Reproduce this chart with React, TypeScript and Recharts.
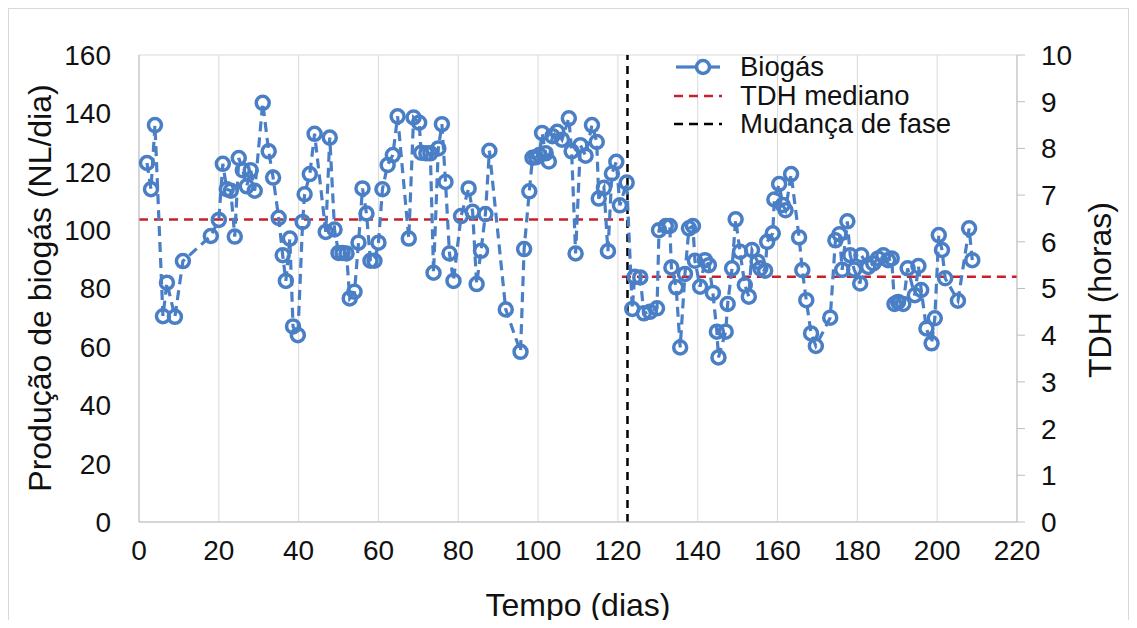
import { ComposedChart, Line, XAxis, YAxis, CartesianGrid, ReferenceLine, Legend } from 'recharts';

const BLUE = '#4A7FC6';
const RED = '#C8202A';
const FONT = '"Liberation Sans", Arial, sans-serif';

// Dias e produção de biogás (NL/dia)
const biogasDays = [
  2, 3, 4, 6, 7, 9, 11, 18, 20, 21, 22, 23, 24, 25, 26, 27, 28, 29, 31, 32.5,
  33.6, 35, 36, 36.8, 37.8, 38.6, 39.8, 41, 41.5, 42.8, 44, 46.8, 47.8, 49, 50, 51, 52, 52.8, 54, 55,
  56, 57, 58, 59, 60, 61, 62.3, 63.6, 64.8, 67.6, 68.8, 70.2, 70.7, 72, 73, 73.8, 75, 75.9, 76.8, 77.8,
  78.8, 80.7, 82.6, 83.6, 84.6, 85.7, 86.8, 87.8, 91.9, 95.6, 96.5, 97.8, 98.6, 99.5, 100.3, 101, 101.9, 102.7, 103.6, 104.8,
  106, 107.7, 108.4, 109.4, 110.6, 111.9, 113.5, 114.7, 115.2, 116.5, 117.5, 118.5, 119.6, 120.5, 122.2, 123.6, 124.2, 125.6, 126.5, 128,
  129.8, 130.3, 132, 133, 133.4, 134.6, 135.6, 136.8, 137.8, 138.8, 139.3, 140.6, 141.8, 142.8, 143.8, 144.8, 145.2, 147, 147.5, 148.6,
  149.5, 150.6, 151.8, 152.8, 153.6, 155, 155.7, 156.9, 157.4, 158.8, 159.2, 160.4, 161.3, 162, 163.4, 165.4, 166.2, 167.2, 168.4, 169.6,
  173.2, 174.5, 175.5, 176.2, 177.5, 178.2, 179.2, 180.7, 181, 182.7, 184, 185.2, 186.5, 187.7, 188.6, 189.3, 190.2, 191.5, 192.6, 194.4,
  195.3, 196, 197.3, 198.6, 199.4, 200.4, 201.2, 202, 205.2, 208, 208.8,
];
const biogasValues = [
  123, 114, 136, 70.5, 82, 70.3, 89.4, 98, 103.5, 122.7, 114, 113.5, 97.8, 124.7, 120.5, 115, 120.5, 113.5, 143.6, 127,
  118, 104.2, 91.4, 82.6, 97.1, 67, 64, 102.8, 112.3, 119.2, 133, 99.4, 131.7, 100.2, 92.2, 92.2, 92, 76.6, 78.9, 95.7,
  114.3, 105.7, 89.5, 89.5, 95.7, 114, 122.3, 125.7, 139, 97.1, 138.6, 136.8, 126.5, 126.3, 126.3, 85.4, 128, 136.3, 116.5, 92,
  82.6, 104.8, 114.3, 106.3, 81.5, 92.9, 105.5, 127.2, 72.8, 58.3, 93.5, 113.3, 124.8, 125, 125.7, 133.3, 126.3, 123.5, 132.2, 133.7,
  131, 138.3, 127, 92, 129.1, 125.5, 136, 130.2, 110.8, 114.5, 92.8, 119.4, 123.4, 108.5, 116.3, 73, 84, 83.8, 71.5, 72,
  73.2, 100, 101.4, 101.4, 87.2, 80.4, 59.8, 85, 100.6, 101.4, 89.5, 80.6, 89.7, 88, 78.5, 65.2, 56.4, 65.2, 74.7, 86.9,
  103.7, 92.6, 81.2, 77.2, 93.2, 89.2, 86.9, 86.1, 96, 98.9, 110.5, 115.8, 108.6, 106.8, 119.2, 97.5, 86.3, 76, 64.6, 60.3,
  70, 96.5, 98.6, 86.4, 103, 91.4, 86.5, 81.7, 91.4, 87.4, 88.6, 90.3, 91.4, 89.7, 90.3, 74.7, 75.4, 74.7, 86.9, 77.7,
  87.7, 79.5, 66.3, 61.2, 69.8, 98.3, 93.2, 83.5, 75.8, 100.6, 89.7,
];

// TDH mediano (horas) por fase e dia da mudança de fase
const phaseChangeDay = 122.4;
const tdhPhase1 = 6.48;
const tdhPhase2 = 5.25;
const tdhPhase1Days = [0, 121.5];
const tdhPhase2Days = [121, 220];

const xTicks = [0, 20, 40, 60, 80, 100, 120, 140, 160, 180, 200, 220];
const leftTicks = [0, 20, 40, 60, 80, 100, 120, 140, 160];
const rightTicks = [0, 1, 2, 3, 4, 5, 6, 7, 8, 9, 10];

const biogasData = biogasDays.map((day, i) => ({ day, biogas: biogasValues[i] }));
const tdh1Data = tdhPhase1Days.map((day) => ({ day, tdh: tdhPhase1 }));
const tdh2Data = tdhPhase2Days.map((day) => ({ day, tdh: tdhPhase2 }));

const tickStyle = { fontSize: 28, fill: '#111', fontFamily: FONT };
const titleStyle = { fontSize: 32, fill: '#111', fontFamily: FONT };

function LeftTitle() {
  return (
    <text x={31} y={279} transform="rotate(-90, 31, 279)" textAnchor="middle" dominantBaseline="central" style={titleStyle}>
      Produção de biogás (NL/dia)
    </text>
  );
}

function RightTitle() {
  return (
    <text x={1091} y={281} transform="rotate(-90, 1091, 281)" textAnchor="middle" dominantBaseline="central" style={titleStyle}>
      TDH (horas)
    </text>
  );
}

function BottomTitle() {
  return (
    <text x={569} y={596} textAnchor="middle" dominantBaseline="central" style={titleStyle}>
      Tempo (dias)
    </text>
  );
}

function LegendBox() {
  const row = { display: 'flex', alignItems: 'center', height: 28.5 };
  const text = { fontSize: 27.5, color: '#111', fontFamily: FONT, marginLeft: 18, lineHeight: '28px' };
  return (
    <div>
      <div style={row}>
        <svg width={48} height={20}>
          <line x1={2} y1={10} x2={21} y2={10} stroke={BLUE} strokeWidth={3.2} />
          <line x1={37} y1={10} x2={46} y2={10} stroke={BLUE} strokeWidth={3.2} />
          <circle cx={29} cy={10} r={6.5} fill="none" stroke={BLUE} strokeWidth={3.5} />
        </svg>
        <span style={text}>Biogás</span>
      </div>
      <div style={row}>
        <svg width={48} height={20}>
          <line x1={0} y1={10} x2={48} y2={10} stroke={RED} strokeWidth={2.5} strokeDasharray="9 6" />
        </svg>
        <span style={text}>TDH mediano</span>
      </div>
      <div style={row}>
        <svg width={48} height={20}>
          <line x1={0} y1={10} x2={48} y2={10} stroke="#000" strokeWidth={2.5} strokeDasharray="9 6" />
        </svg>
        <span style={text}>Mudança de fase</span>
      </div>
    </div>
  );
}

export default function App() {
  return (
    <div
      style={{
        width: 1121,
        height: 620,
        marginBottom: -8,
        borderTop: '1px solid #d9d9d9',
        borderLeft: '1px solid #d9d9d9',
        borderRight: '1px solid #d9d9d9',
        boxSizing: 'border-box',
        background: '#fff',
      }}
    >
      <ComposedChart width={1119} height={619} margin={{ top: 46, right: 0, bottom: 0, left: 0 }}>
        <CartesianGrid stroke="#d9d9d9" strokeWidth={1} />
        <XAxis
          dataKey="day"
          type="number"
          domain={[0, 220]}
          ticks={xTicks}
          allowDuplicatedCategory={false}
          height={106}
          tickLine={false}
          tickSize={0}
          tickMargin={18}
          axisLine={{ stroke: '#bfbfbf' }}
          tick={tickStyle}
          label={BottomTitle}
        />
        <YAxis
          yAxisId="left"
          domain={[0, 160]}
          ticks={leftTicks}
          width={130}
          tickLine={false}
          tickSize={0}
          tickMargin={28}
          axisLine={{ stroke: '#bfbfbf' }}
          tick={tickStyle}
          label={LeftTitle}
        />
        <YAxis
          yAxisId="right"
          orientation="right"
          domain={[0, 10]}
          ticks={rightTicks}
          width={111}
          tickSize={8}
          tickMargin={16}
          tickLine={{ stroke: '#bfbfbf' }}
          axisLine={{ stroke: '#bfbfbf' }}
          tick={tickStyle}
          label={RightTitle}
        />
        <Legend
          content={LegendBox}
          layout="horizontal"
          verticalAlign="middle"
          align="center"
          wrapperStyle={{ left: 665, top: 44, width: 340 }}
        />
        <Line
          yAxisId="right"
          data={tdh1Data}
          dataKey="tdh"
          stroke={RED}
          strokeWidth={2.5}
          strokeDasharray="9 6"
          dot={false}
          activeDot={false}
          isAnimationActive={false}
        />
        <Line
          yAxisId="right"
          data={tdh2Data}
          dataKey="tdh"
          stroke={RED}
          strokeWidth={2.5}
          strokeDasharray="9 6"
          dot={false}
          activeDot={false}
          isAnimationActive={false}
        />
        <ReferenceLine yAxisId="left" x={phaseChangeDay} stroke="#000" strokeWidth={2.5} strokeDasharray="8 6" />
        <Line
          yAxisId="left"
          data={biogasData}
          dataKey="biogas"
          type="linear"
          stroke={BLUE}
          strokeWidth={3.2}
          strokeDasharray="10 6"
          dot={{ r: 6.5, stroke: BLUE, strokeWidth: 3.5, fill: 'none', strokeDasharray: 'none' }}
          activeDot={false}
          isAnimationActive={false}
        />
      </ComposedChart>
    </div>
  );
}
